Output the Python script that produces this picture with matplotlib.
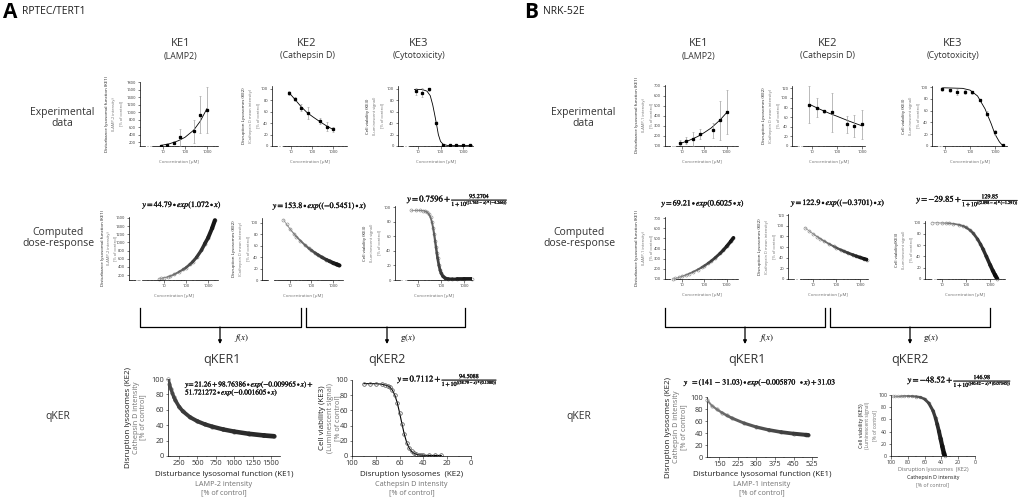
import numpy as np
import matplotlib.pyplot as plt
from matplotlib.collections import LineCollection
import matplotlib.patheffects as pe

W, H = 1031, 497
plt.rcParams['font.family'] = ['Open Sans', 'DejaVu Sans']
plt.rcParams['mathtext.fontset'] = 'stix'

DARK = '#1c1c1c'
GREY = '#707070'

# ---------------- data ----------------
# A  RPTEC/TERT1, experimental
a_e1_x = [7.8, 15.6, 31.25, 62.5, 250, 500, 1000]
a_e1_y = [110, 135, 180, 330, 490, 935, 1055]
a_e1_err = [20, 25, 40, 230, 310, 485, 600]
a_e1_fit_x = [8, 20, 50, 100, 250, 500, 1000]
a_e1_fit_y = [115, 160, 240, 330, 520, 760, 1090]

a_e2_x = [7.8, 15.6, 31.25, 62.5, 250, 500, 1000]
a_e2_y = [93, 82, 67, 58, 44, 34, 29]
a_e2_err = [4, 3, 6, 10, 5, 8, 4]
a_e2_fit_x = [7.8, 15, 30, 60, 120, 250, 500, 1000]
a_e2_fit_y = [94, 82, 69, 58, 50, 42, 35, 29]

a_e3_x = [7.8, 15.6, 31.25, 62.5, 125, 250, 500, 1000, 2000]
a_e3_y = [96, 93, 99, 41, 2, 1, 1, 1, 1]
a_e3_err = [6, 8, 3, 2, 1, 0, 0, 0, 0]
a_e3_fit_x = [7, 15, 25, 35, 45, 55, 65, 80, 100, 130, 200, 2500]
a_e3_fit_y = [99, 99, 96, 88, 72, 55, 40, 20, 8, 3, 1, 1]

# A computed dose-response
a_c1_x = [6, 8, 10, 15, 20, 30, 50, 75, 100, 150, 200, 300, 500, 700, 1000, 1500, 2000]
a_c1_y = [103, 117, 131, 155, 176, 216, 283, 337, 382, 461, 525, 634, 812, 965, 1117, 1348, 1540]
a_c2_x = [5, 7, 10, 15, 20, 30, 50, 75, 100, 150, 200, 300, 500, 700, 1000, 1500, 2000]
a_c2_y = [105, 97, 89, 81, 75.7, 68.8, 60.9, 55.3, 51.7, 47, 43.9, 39.8, 35.3, 32.6, 29.9, 27.2, 25.4]
a_c3_x = [5, 8, 12, 16, 20, 25, 30, 35, 40, 45, 50, 55, 60, 65, 70, 80, 90, 100, 120, 150,
          200, 300, 500, 1000, 2000]
a_c3_y = [96, 96, 95.9, 95.6, 95, 93.5, 90.7, 86.3, 80, 72.2, 63.3, 54.1, 45.3, 37.4, 30.5,
          20.3, 13.6, 9.4, 4.9, 2.4, 1.3, 0.9, 0.8, 0.8, 0.8]

# A qKER
a_k1_x = [105, 120, 140, 160, 180, 200, 250, 300, 400, 500, 600, 700, 850, 1000, 1200, 1400, 1540]
a_k1_y = [99.7, 93.8, 87.1, 81.4, 76.4, 72.3, 64.1, 58.2, 50.3, 45.1, 41.2, 38.2, 34.5, 31.7,
          28.8, 26.7, 25.6]
a_k2_x = [90, 85, 80, 75, 72, 70, 68, 66, 64, 62, 60, 58, 56, 54, 52, 50, 48, 46, 44, 42,
          40, 35, 30, 25]
a_k2_y = [95.2, 95.2, 95.1, 94.5, 93.3, 92.6, 90.4, 86.5, 80.1, 70.2, 56.9, 42.1, 28.3, 17.6,
          10.5, 6.2, 3.7, 2.3, 1.5, 1.1, 0.95, 0.8, 0.72, 0.71]

# B  NRK-52E, experimental
b_e1_x = [7.8, 15.6, 31.25, 62.5, 250, 500, 1000]
b_e1_y = [130, 150, 170, 220, 255, 355, 435]
b_e1_err = [25, 35, 70, 50, 75, 195, 220]
b_e1_fit_x = [8, 20, 50, 100, 200, 500, 1000]
b_e1_fit_y = [125, 155, 195, 235, 280, 360, 435]

b_e2_x = [7.8, 15.6, 31.25, 62.5, 250, 500, 1000]
b_e2_y = [86, 80, 72, 70, 45, 41, 45]
b_e2_err = [38, 20, 3, 40, 17, 23, 30]
b_e2_fit_x = [7.8, 20, 50, 100, 300, 1000]
b_e2_fit_y = [87, 77, 68, 62, 52, 42]

b_e3_x = [7.8, 15.6, 31.25, 62.5, 125, 250, 500, 1000, 2000]
b_e3_y = [97, 95, 92, 92, 91, 78, 55, 23, 1]
b_e3_err = [3, 3, 5, 4, 2, 2, 4, 4, 1]
b_e3_fit_x = [8, 50, 100, 200, 400, 700, 1000, 1500, 2000]
b_e3_fit_y = [99, 98, 95, 85, 63, 38, 20, 7, 1]

# B computed dose-response
b_c1_x = [4, 5, 7, 10, 15, 20, 30, 50, 75, 100, 150, 200, 300, 500, 700, 1000, 1500, 2000]
b_c1_y = [99.5, 105.5, 115.2, 126.4, 140.6, 151.6, 168.5, 192.6, 214.2, 230.9, 256.8, 276.8,
          307.9, 351.9, 384.3, 421.9, 469.1, 505.7]
b_c2_x = [4.5, 7, 10, 15, 20, 30, 50, 75, 100, 150, 200, 300, 500, 700, 1000, 1500, 2000]
b_c2_y = [96.5, 89.9, 84.9, 79.5, 75.9, 71.1, 65.5, 61.4, 58.6, 54.9, 52.4, 49.1, 45.3, 42.9,
          40.5, 37.9, 36.2]
b_c3_x = [4, 6, 10, 15, 20, 30, 50, 75, 100, 150, 200, 300, 400, 500, 700, 1000, 1300, 1600, 2000]
b_c3_y = [99.9, 99.8, 99.5, 99.2, 98.9, 98.1, 96.4, 94.1, 91.6, 86.4, 81.2, 71.1, 61.9, 53.8,
          40.2, 25.3, 14.9, 7.4, 0.3]

# B qKER
b_k1_x = [100, 120, 140, 160, 180, 200, 250, 300, 350, 400, 450, 500, 510]
b_k1_y = [95, 85.4, 79.4, 74, 69.3, 65, 56.4, 49.9, 45.1, 41.5, 38.9, 36.9, 36.5]
b_k2_x = [98, 95, 92, 88, 85, 80, 75, 70, 65, 60, 55, 50, 47, 45, 43, 41, 39, 37, 36]
b_k2_y = [98.4, 98.4, 98.4, 98.4, 98.3, 98.3, 98, 97.5, 96.3, 93.3, 86.6, 74.2, 62.1, 52.1,
          40.8, 28.6, 16.2, 4.3, 0]

fig = plt.figure(figsize=(W / 100, H / 100), dpi=100)
over = fig.add_axes([0, 0, 1, 1])
over.set_xlim(0, W)
over.set_ylim(H, 0)
over.axis('off')

BOLD = [pe.withStroke(linewidth=0.18, foreground='#111111')]


def box(l, t, r, b):
    ax = fig.add_axes([l / W, 1 - b / H, (r - l) / W, (b - t) / H])
    ax.patch.set_visible(False)
    return ax


def stack(ax, lines, sizes, colors, offs, vertical):
    # several label lines stacked outwards from an axis, offsets in pixels
    for txt, fs, c, off in zip(lines, sizes, colors, offs):
        if vertical:
            ax.annotate(txt, xy=(0, 0.5), xycoords='axes fraction', xytext=(-off * 0.72, 0),
                        textcoords='offset points', rotation=90, ha='center', va='center',
                        fontsize=fs, color=c, annotation_clip=False)
        else:
            ax.annotate(txt, xy=(0.5, 0), xycoords='axes fraction', xytext=(0, -off * 0.72),
                        textcoords='offset points', ha='center', va='center',
                        fontsize=fs, color=c, annotation_clip=False)


def plain(ax, fs):
    for s in ('top', 'right'):
        ax.spines[s].set_visible(False)
    for s in ('left', 'bottom'):
        ax.spines[s].set_linewidth(0.5)
    ax.tick_params(labelsize=fs, length=1.8, width=0.45, pad=1, colors='#333333')
    ax.tick_params(which='minor', length=1.0, width=0.35, colors='#333333')


def dose_ax(l, t, r, b, xlim, ylim, yticks, ylab, yoffs):
    ax = box(l, t, r, b)
    ax.set_xscale('log')
    ax.set_xlim(*xlim)
    ax.set_ylim(*ylim)
    ax.set_xticks([10, 100, 1000], ['10', '100', '1000'])
    ax.set_yticks(yticks)
    plain(ax, 2.9)
    # GraphPad style broken x axis
    lo, hi = np.log10(xlim)
    ax.spines['bottom'].set_bounds(10 ** (lo + 0.15 * (hi - lo)), xlim[1])
    ax.plot([0, 0.07], [0, 0], transform=ax.transAxes, color='k', lw=0.5, clip_on=False)
    stack(ax, ylab, [3.2, 2.9, 2.9], [DARK, GREY, GREY], yoffs, True)
    stack(ax, ['Concentration [µM]'], [3.2], [GREY], [16], False)
    return ax


def experimental(ax, x, y, err, fx, fy):
    ax.errorbar(x, y, yerr=err, fmt='s', ms=1.4, color='k', ecolor='0.62',
                elinewidth=0.5, capsize=0.8, capthick=0.4, zorder=3)
    ax.plot(fx, fy, color='k', lw=0.6, zorder=2)


def dense(ax, x, y, w0, w1, c0=0.6, c1=0.08, ms=2.2):
    ax.plot(x, y, 'o', ms=ms, mfc='none', mec='0.5', mew=0.4, zorder=2, clip_on=False)
    pts = np.column_stack([x, y])
    segs = np.stack([pts[:-1], pts[1:]], axis=1)
    n = len(segs)
    lc = LineCollection(segs, linewidths=np.linspace(w0, w1, n),
                        colors=[str(v) for v in np.linspace(c0, c1, n)],
                        capstyle='round', zorder=3)
    ax.add_collection(lc)


def text(x, y, s, fs, color=DARK, **kw):
    over.text(x, y, s, fontsize=fs, color=color, ha=kw.pop('ha', 'center'), va='center', **kw)


def eq(x, y, s, fs=5.8, ha='center'):
    over.text(x, y, s, fontsize=fs, ha=ha, va='center', color='#111111', path_effects=BOLD)


# ---------------- headings ----------------
text(10, 12, 'A', 15, color='k', weight='bold')
text(22, 12, 'RPTEC/TERT1', 7.5, ha='left')
text(531, 12, 'B', 15, color='k', weight='bold')
text(543, 12, 'NRK-52E', 7.5, ha='left')

heads = [('KE1', '(LAMP2)'), ('KE2', '(Cathepsin D)'), ('KE3', '(Cytotoxicity)')]
for xs in ([181, 307, 419], [699, 828, 953]):
    for cx, (h, sub) in zip(xs, heads):
        text(cx, 44, h, 8, color='#333333')
        text(cx, 56, sub, 6.3, color='#333333')

for cx in (62, 583):
    text(cx, 118, 'Experimental\ndata', 7.5, color='#333333', linespacing=1.1)
    text(cx - 4, 238, 'Computed\ndose-response', 7.5, color='#333333', linespacing=1.1)
    text(cx - 4, 417, 'qKER', 7.5, color='#333333')

# ---------------- A: experimental ----------------
ax = dose_ax(140, 82, 218, 146, (0.9, 3200), (100, 1800), range(200, 1801, 200),
             ['Disturbance lysosomal function (KE1)', '(LAMP-2 intensity)', '[% of control]'],
             [33, 26, 19])
experimental(ax, a_e1_x, a_e1_y, a_e1_err, a_e1_fit_x, a_e1_fit_y)
ax = dose_ax(272, 86, 347, 146, (1.25, 4600), (0, 105), range(0, 101, 20),
             ['Disruption Lysosomes (KE2)', '(Cathepsin D mean intensity)', '[% of control]'],
             [28, 21, 14])
experimental(ax, a_e2_x, a_e2_y, a_e2_err, a_e2_fit_x, a_e2_fit_y)
ax = dose_ax(398, 86, 473, 146, (1.3, 2750), (0, 105), range(0, 101, 20),
             ['Cell viability (KE3)', '(Luminescent signal)', '[% of control]'],
             [30, 23, 16])
experimental(ax, a_e3_x, a_e3_y, a_e3_err, a_e3_fit_x, a_e3_fit_y)

# ---------------- A: computed ----------------
ax = dose_ax(129, 217, 218, 280, (0.28, 2750), (80, 1620), range(200, 1601, 200),
             ['Disturbance lysosomal function (KE1)', '(LAMP-2 intensity)', '[% of control]'],
             [26, 20, 14])
dense(ax, a_c1_x, a_c1_y, 0.6, 3.0)
ax = dose_ax(262, 218, 343, 280, (0.5, 2950), (0, 108), range(0, 101, 20),
             ['Disruption Lysosomes (KE2)', '(Cathepsin D mean intensity)', '[% of control]'],
             [28, 21, 14])
dense(ax, a_c2_x, a_c2_y, 0.6, 3.0)
ax = dose_ax(395, 206, 472, 280, (1.05, 2100), (0, 102), range(0, 101, 20),
             ['Cell viability (KE3)', '(Luminescent signal)', '[% of control]'],
             [30, 23, 16])
dense(ax, a_c3_x, a_c3_y, 0.6, 2.8, c0=0.55, c1=0.1)

eq(182, 205, r'$y = 44.79 \bullet exp(1.072 \bullet x)$')
eq(320, 205, r'$y = 153.8 \bullet exp\left((-0.5451) \bullet x\right)$')
eq(458, 200, r'$y = 0.7596 + \frac{95.2704}{1 + 10^{((1.765-\,x)*(-4.266))}}$', 6.2)

# ---------------- A: qKER ----------------
ax = box(168, 379, 280, 456)
ax.set_xlim(100, 1620)
ax.set_ylim(0, 100)
ax.set_xticks(range(250, 1501, 250))
ax.set_yticks(range(0, 101, 20))
ax.xaxis.set_minor_locator(plt.MultipleLocator(125))
plain(ax, 5.3)
dense(ax, a_k1_x, a_k1_y, 2.2, 3.4, c0=0.3, c1=0.15, ms=2.6)
stack(ax, ['Disruption lysosomes (KE2)', 'Cathepsin D intensity', '[% of control]'],
      [5.8, 5.2, 5.2], [DARK, GREY, GREY], [40, 32, 25], True)
stack(ax, ['Disturbance lysosomal function (KE1)', 'LAMP-2 intensity', '[% of control]'],
      [5.8, 5.2, 5.2], [DARK, GREY, GREY], [19, 28, 37], False)
eq(185, 385, r'$y\!= 21.26 + 98.76386 \bullet exp(-0.009965 \bullet x) +$', 5.3, ha='left')
eq(185, 393, r'$51.721272 \bullet exp(-0.001605 \bullet x)$', 5.3, ha='left')

ax = box(352, 380, 471, 456)
ax.set_xlim(100, 0)
ax.set_ylim(0, 100)
ax.set_xticks(range(100, -1, -20))
ax.set_yticks(range(0, 101, 20))
ax.xaxis.set_minor_locator(plt.MultipleLocator(10))
plain(ax, 5.3)
ax.plot(a_k2_x, a_k2_y, '-o', color='k', lw=0.8, ms=2.6, mfc='none', mec='0.3', mew=0.5)
stack(ax, ['Cell viability (KE3)', '(Luminescent signal)', '[% of control]'],
      [5.8, 5.2, 5.2], [DARK, GREY, GREY], [29, 21, 14], True)
stack(ax, ['Disruption lysosomes  (KE2)', 'Cathepsin D intensity', '[% of control]'],
      [5.8, 5.2, 5.2], [DARK, GREY, GREY], [19, 28, 37], False)
eq(448, 380, r'$y = 0.7112 + \frac{94.5088}{1 + 10^{((58.79-\,x)*(0.1380))}}$', 6.2)

# ---------------- B: experimental ----------------
ax = dose_ax(665, 85, 738, 146, (1.7, 3200), (100, 710), range(100, 701, 100),
             ['Disturbance lysosomal function (KE1)', '(LAMP-1 intensity)', '[% of control]'],
             [28, 21, 14])
experimental(ax, b_e1_x, b_e1_y, b_e1_err, b_e1_fit_x, b_e1_fit_y)
ax = dose_ax(792, 86, 865, 146, (1.6, 1320), (0, 125), range(0, 121, 20),
             ['Disruption Lysosomes (KE2)', '(Cathepsin D mean intensity)', '[% of control]'],
             [28, 21, 14])
experimental(ax, b_e2_x, b_e2_y, b_e2_err, b_e2_fit_x, b_e2_fit_y)
ax = dose_ax(932, 86, 1007, 146, (3, 3020), (0, 102), range(0, 101, 20),
             ['Cell viability (KE3)', '(Luminescent signal)', '[% of control]'],
             [28, 21, 14])
experimental(ax, b_e3_x, b_e3_y, b_e3_err, b_e3_fit_x, b_e3_fit_y)

# ---------------- B: computed ----------------
ax = dose_ax(665, 217, 738, 279, (1.7, 3200), (100, 710), range(100, 701, 100),
             ['Disturbance lysosomal function (KE1)', '(LAMP-1 intensity)', '[% of control]'],
             [28, 21, 14])
dense(ax, b_c1_x, b_c1_y, 0.6, 2.6)
ax = dose_ax(788, 214, 868, 279, (0.86, 2200), (0, 122), range(0, 121, 20),
             ['Disruption Lysosomes (KE2)', '(Cathepsin D mean intensity)', '[% of control]'],
             [28, 21, 14])
dense(ax, b_c2_x, b_c2_y, 0.6, 2.6)
ax = dose_ax(925, 221, 1005, 279, (1.96, 4200), (0, 103), range(0, 101, 20),
             ['Cell viability(KE3)', '(Luminescent signal)', '[% of control]'],
             [28, 21, 14])
dense(ax, b_c3_x, b_c3_y, 0.5, 3.0, c0=0.6, c1=0.05)

eq(703, 203, r'$y = 69.21 \bullet exp(0.6025 \bullet x)$')
eq(838, 203, r'$y = 122.9 \bullet exp\left((-0.3701) \bullet x\right)$')
eq(968, 200, r'$y = -29.85 + \frac{129.85}{1 + 10^{((2.898-\,x)*(-1.291))}}$', 6.2)

# ---------------- B: qKER ----------------
ax = box(707, 397, 817, 457)
ax.set_xlim(100, 545)
ax.set_ylim(0, 100)
ax.set_xticks(range(150, 526, 75))
ax.set_yticks(range(0, 101, 20))
ax.xaxis.set_minor_locator(plt.MultipleLocator(37.5))
plain(ax, 5.3)
dense(ax, b_k1_x, b_k1_y, 1.4, 3.0, c0=0.5, c1=0.2, ms=2.4)
stack(ax, ['Disruption lysosomes (KE2)', 'Cathepsin D intensity', '[% of control]'],
      [5.8, 5.2, 5.2], [DARK, GREY, GREY], [39, 31, 23], True)
stack(ax, ['Disturbance lysosomal function (KE1)', 'LAMP-1 intensity', '[% of control]'],
      [5.8, 5.2, 5.2], [DARK, GREY, GREY], [18, 27, 36], False)
eq(760, 382, r'$y\ \ = (141\,-\,31.03) \bullet exp(-0.005870\ \ \bullet x) + 31.03$', 5.6)

ax = box(891, 395, 975, 456)
ax.set_xlim(100, 0)
ax.set_ylim(0, 100)
ax.set_xticks(range(100, -1, -20))
ax.set_yticks(range(0, 101, 20))
ax.xaxis.set_minor_locator(plt.MultipleLocator(10))
plain(ax, 3.8)
dense(ax, b_k2_x, b_k2_y, 0.5, 3.4, c0=0.55, c1=0.05, ms=2.0)
stack(ax, ['Cell viability (KE3)', '(Luminescent signal)', '[% of control]'],
      [4.0, 3.6, 3.6], [DARK, GREY, GREY], [29, 23, 16], True)
stack(ax, ['Disruption lysosomes  (KE2)', 'Cathepsin D intensity', '[% of control]'],
      [4.0, 3.8, 3.8], [GREY, DARK, GREY], [14, 21, 29], False)
eq(960, 381, r'$y = -48.52 + \frac{146.98}{1 + 10^{((40.42-\,x)*(0.07345))}}$', 6.2)

# ---------------- brackets and arrows ----------------
for (l, r, fx), (l2, r2, gx) in [((140, 301, 220), (306, 465, 387)),
                                  ((665, 825, 745), (830, 990, 910))]:
    for a, b_, c in ((l, r, fx), (l2, r2, gx)):
        over.plot([a, a, b_, b_], [308, 327, 327, 308], color='k', lw=0.9)
        over.annotate('', xy=(c, 344), xytext=(c, 327),
                      arrowprops=dict(arrowstyle='-|>', color='k', lw=0.9,
                                      mutation_scale=5, shrinkA=0, shrinkB=0))
    over.text(fx + 22, 338, r'$f(x)$', fontsize=6.5, ha='center', va='center')
    over.text(gx + 21, 338, r'$\mathrm{g}(x)$', fontsize=6.5, ha='center', va='center')
    text(fx + 2, 359, 'qKER1', 9, color='#333333')
    text(gx, 359, 'qKER2', 9, color='#333333')

fig.savefig('out.png', dpi=100)
